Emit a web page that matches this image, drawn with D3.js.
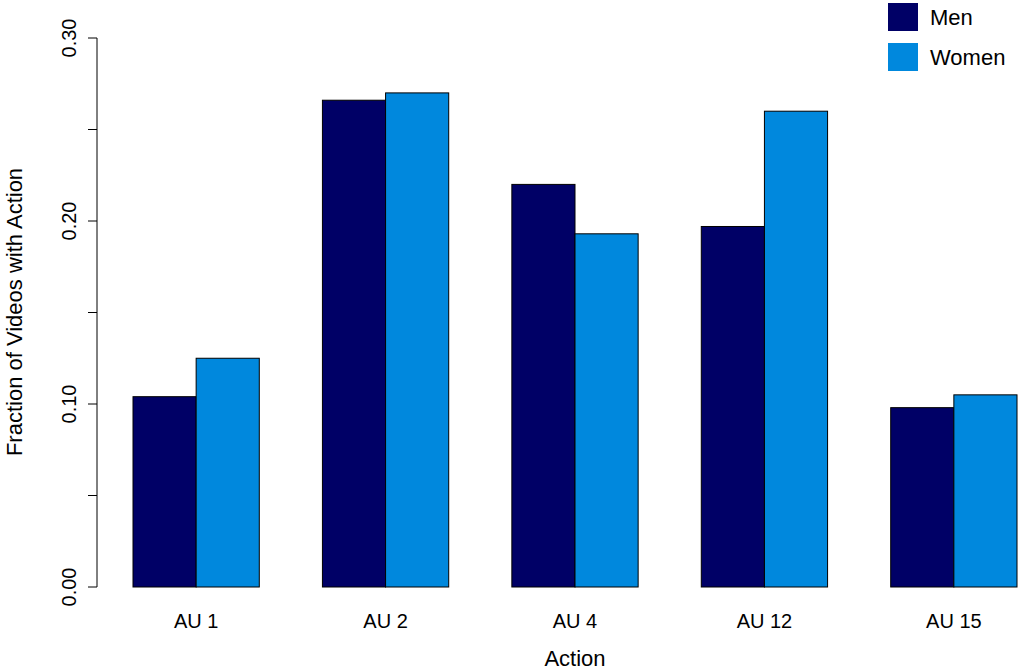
<!DOCTYPE html>
<html>
<head>
  <meta charset="utf-8">
  <script src="https://cdn.jsdelivr.net/npm/d3@7"></script>
  <style>
    body { margin: 0; background: #fff; font-family: "Liberation Sans", Arial, sans-serif; }
    text { fill: #000; }
  </style>
</head>
<body>
<svg id="chart" width="1024" height="672"></svg>
<script>
const categories = ["AU 1", "AU 2", "AU 4", "AU 12", "AU 15"];
const series = ["Men", "Women"];
const men = [0.104, 0.266, 0.220, 0.197, 0.098];
const women = [0.125, 0.270, 0.193, 0.260, 0.105];
const yTicks = [0, 0.05, 0.10, 0.15, 0.20, 0.25, 0.30];
const yLabels = [0, 0.10, 0.20, 0.30];
const colors = ["#000066", "#0088dd"];

const svg = d3.select("#chart");
// bar units: each group = 2 bars + 1 gap, first bar starts at unit 1
const x = d3.scaleLinear().domain([1, 15]).range([133, 1017]);
const y = d3.scaleLinear().domain([0, 0.3]).range([587, 38]);

const vals = [men, women];
categories.forEach((c, i) => {
  const start = 1 + i * 3;
  vals.forEach((v, s) => {
    svg.append("rect")
      .attr("x", x(start + s)).attr("width", x(start + s + 1) - x(start + s))
      .attr("y", y(v[i])).attr("height", y(0) - y(v[i]))
      .attr("fill", colors[s]).attr("stroke", "#000").attr("stroke-width", 1);
  });
  svg.append("text").attr("x", x(start + 1)).attr("y", 628)
    .attr("text-anchor", "middle").attr("font-size", 20).text(c);
});

// y axis
svg.append("line").attr("x1", 97).attr("x2", 97).attr("y1", y(0)).attr("y2", y(0.3)).attr("stroke", "#000");
yTicks.forEach(t => {
  svg.append("line").attr("x1", 88).attr("x2", 97).attr("y1", y(t)).attr("y2", y(t)).attr("stroke", "#000");
});
yLabels.forEach(t => {
  svg.append("text").attr("transform", `translate(76,${y(t)}) rotate(-90)`)
    .attr("text-anchor", "middle").attr("font-size", 20).text(d3.format(".2f")(t));
});
svg.append("text").attr("transform", `translate(22,312) rotate(-90)`)
  .attr("text-anchor", "middle").attr("font-size", 22).text("Fraction of Videos with Action");
svg.append("text").attr("x", 575).attr("y", 666).attr("text-anchor", "middle")
  .attr("font-size", 22).text("Action");

// legend
series.forEach((s, i) => {
  svg.append("rect").attr("x", 888).attr("y", 3 + i * 40).attr("width", 30).attr("height", 28)
    .attr("fill", colors[i]);
  svg.append("text").attr("x", 930).attr("y", 25 + i * 40).attr("font-size", 22).text(s);
});
</script>
</body>
</html>
